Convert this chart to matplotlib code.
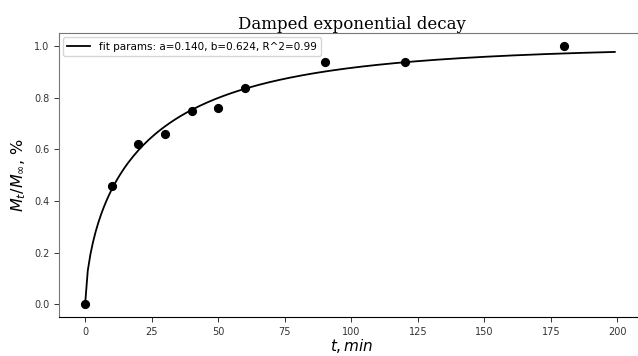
import numpy as np
import matplotlib
matplotlib.use("Agg")
import matplotlib.pyplot as plt

# Data
t_data = [0, 10, 20, 30, 40, 50, 60, 90, 120, 180]
y_data = [0.0, 0.46, 0.62, 0.66, 0.75, 0.76, 0.84, 0.94, 0.94, 1.0]

# Fit parameters shown in the legend: y = 1 - exp(-a * t**b)
fit_a = 0.140
fit_b = 0.624
fit_r2 = 0.99
t_fit = np.arange(0, 200)
y_fit = 1 - np.exp(-fit_a * t_fit ** fit_b)

xticks = [0, 25, 50, 75, 100, 125, 150, 175, 200]
yticks = [0.0, 0.2, 0.4, 0.6, 0.8, 1.0]

fig = plt.figure(figsize=(6.38, 3.56), dpi=100)
ax = fig.add_axes([0.0925, 0.1087, 0.917, 0.7978])

ax.plot(t_fit, y_fit, color="black", lw=1.3,
        label=f"fit params: a={fit_a:.3f}, b={fit_b:.3f}, R^2={fit_r2:.2f}")
ax.plot(t_data, y_data, "o", color="black", ms=5.6)

ax.set_xticks(xticks)
ax.set_yticks(yticks)
ax.tick_params(labelsize=7, colors="#333333", length=3.5, width=0.7)
ax.set_xlim(-9.8, 210)
ax.set_ylim(-0.05, 1.05)

ax.set_title("Damped exponential decay", family="DejaVu Serif", fontsize=12, pad=3)
ax.set_xlabel("$t, min$", fontsize=11, labelpad=0)
ax.set_ylabel(r"$M_t/M_\infty$, %", fontsize=11.5, labelpad=4)

for s in ["left", "top"]:
    ax.spines[s].set_color("#777777")
ax.spines["bottom"].set_color("black")

leg = ax.legend(loc="upper left", fontsize=7.5, frameon=True, borderpad=0.4,
                handlelength=2.2, borderaxespad=0.4)
leg.get_frame().set_edgecolor("#cccccc")

fig.savefig("out.png", dpi=100)
